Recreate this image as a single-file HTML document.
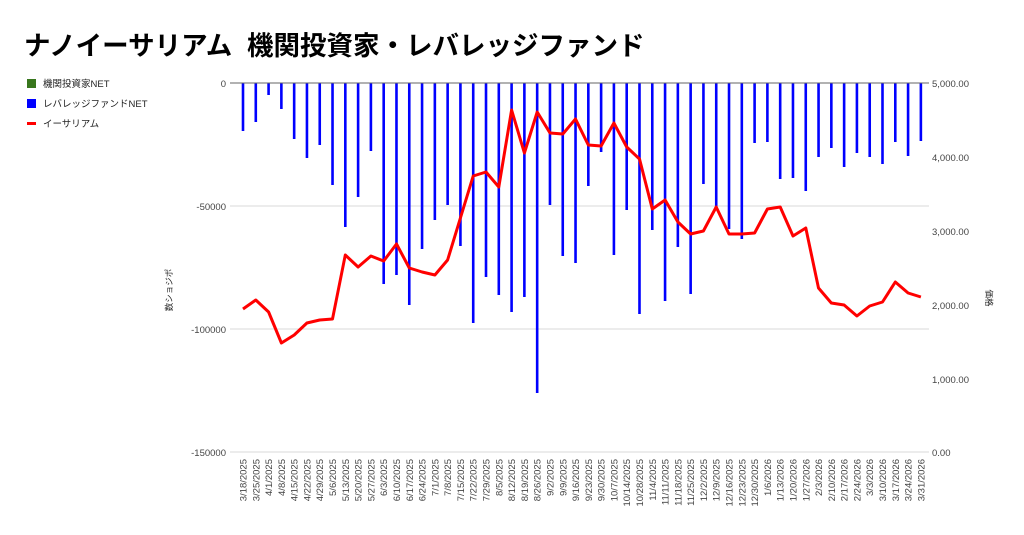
<!DOCTYPE html>
<html><head><meta charset="utf-8"><style>
html,body{margin:0;padding:0;background:#fff;}
svg{display:block;font-family:"Liberation Sans","Noto Sans CJK JP",sans-serif;}
</style></head><body>
<svg width="1024" height="535" viewBox="0 0 1024 535" xmlns="http://www.w3.org/2000/svg">
<text x="24" y="55" font-size="26.5" font-weight="bold" fill="#000">ナノイーサリアム&#160;&#160;機関投資家・レバレッジファンド</text>
<rect x="27" y="79" width="9" height="9" fill="#38761d"/>
<text x="43" y="87" font-size="9.5" fill="#222">機関投資家NET</text>
<rect x="27" y="99" width="9" height="9" fill="#0000ff"/>
<text x="43" y="107" font-size="9.5" fill="#222">レバレッジファンドNET</text>
<rect x="27" y="122" width="9" height="3" fill="#ff0000"/>
<text x="43" y="127" font-size="9.5" fill="#222">イーサリアム</text>
<g stroke="#d9d9d9" stroke-width="1">
<line x1="230" y1="206" x2="929" y2="206"/>
<line x1="230" y1="329" x2="929" y2="329"/>
<line x1="230" y1="452" x2="929" y2="452"/>
</g>
<g font-size="9.5" fill="#444" text-anchor="end">
<text x="226" y="87">0</text>
<text x="226" y="210">-50000</text>
<text x="226" y="333">-100000</text>
<text x="226" y="456">-150000</text>
</g>
<g font-size="9.5" fill="#444">
<text x="932" y="87">5,000.00</text>
<text x="932" y="161">4,000.00</text>
<text x="932" y="235">3,000.00</text>
<text x="932" y="309">2,000.00</text>
<text x="932" y="383">1,000.00</text>
<text x="932" y="456">0.00</text>
</g>
<text transform="translate(172,290) rotate(-90)" font-size="8.5" fill="#222" text-anchor="middle">数ショジポ</text>
<text transform="translate(986,298) rotate(90)" font-size="8.5" fill="#222" text-anchor="middle">価格</text>
<g id="bars" stroke="#0000ff" stroke-width="2.6"></g>
<line x1="230" y1="83" x2="929" y2="83" stroke="#666" stroke-width="1"/>
<polyline id="ln" fill="none" stroke="#ff0000" stroke-width="3" stroke-linejoin="round"/>
<g id="lbl" font-size="9.5" fill="#444"></g>
</svg>
<script>
var b=[131,122,95,109,139,158,145,185,227,197,151,284,275,305,249,220,205,246,323,277,295,312,297,393,205,256,263,186,152,255,210,314,230,301,247,294,184,208,229,239,143,142,179,178,191,157,148,167,153,157,164,142,156,141];
var l=[309,300,312,343,335,323,320,319,255,267,256,261,244,268,272,275,260,218,176,172,187,110,153,112,133,134,119,145,146,123,147,159,209,200,222,234,231,207,234,234,233,209,207,236,228,288,303,305,316,306,302,282,293,297];
var d=["3/18/2025","3/25/2025","4/1/2025","4/8/2025","4/15/2025","4/22/2025","4/29/2025","5/6/2025","5/13/2025","5/20/2025","5/27/2025","6/3/2025","6/10/2025","6/17/2025","6/24/2025","7/1/2025","7/8/2025","7/15/2025","7/22/2025","7/29/2025","8/5/2025","8/12/2025","8/19/2025","8/26/2025","9/2/2025","9/9/2025","9/16/2025","9/23/2025","9/30/2025","10/7/2025","10/14/2025","10/28/2025","11/4/2025","11/11/2025","11/18/2025","11/25/2025","12/2/2025","12/9/2025","12/16/2025","12/23/2025","12/30/2025","1/6/2026","1/13/2026","1/20/2026","1/27/2026","2/3/2026","2/10/2026","2/17/2026","2/24/2026","3/3/2026","3/10/2026","3/17/2026","3/24/2026","3/31/2026"];
var ns="http://www.w3.org/2000/svg",g=document.getElementById("bars"),lb=document.getElementById("lbl"),pts=[];
for(var i=0;i<54;i++){var x=243+i*12.79;
var e=document.createElementNS(ns,"line");e.setAttribute("x1",x);e.setAttribute("x2",x);e.setAttribute("y1",83);e.setAttribute("y2",b[i]);g.appendChild(e);
pts.push(x.toFixed(1)+","+l[i]);
var t=document.createElementNS(ns,"text");t.setAttribute("transform","translate("+(x+3.5)+",459) rotate(-90)");t.setAttribute("text-anchor","end");t.textContent=d[i];lb.appendChild(t);}
document.getElementById("ln").setAttribute("points",pts.join(" "));
</script>
</body></html>
